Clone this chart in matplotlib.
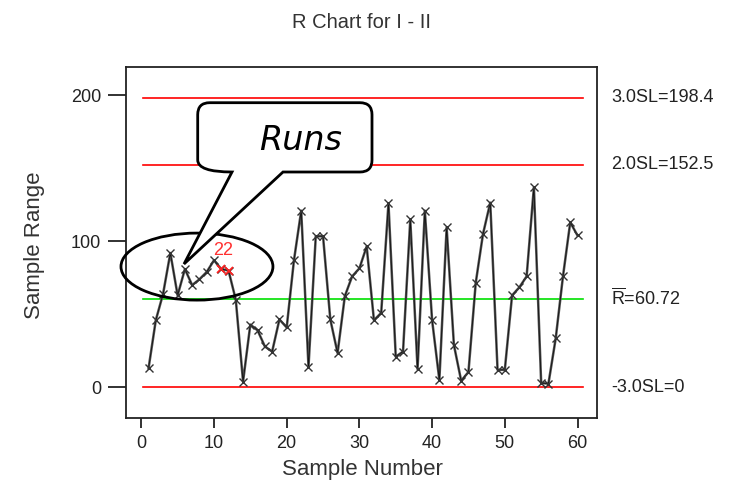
import matplotlib
matplotlib.use("Agg")
import matplotlib.pyplot as plt
import matplotlib.transforms as mtransforms
from matplotlib.patches import Ellipse, PathPatch
from matplotlib.path import Path

# ---------------- data ----------------
sample_range = [13, 46, 64, 92, 63, 81, 70, 74, 79, 87,
                81, 80, 60, 4, 43, 39, 28, 24.5, 46.5, 41,
                87, 121, 14, 103.5, 103.5, 46.5, 23.5, 62.5, 76, 81.5,
                96.5, 46, 51, 126, 21, 24.5, 115, 12.5, 121, 46,
                5, 109.5, 29, 4.5, 10.5, 71.5, 105, 126.5, 12, 12,
                63, 68.5, 76, 137, 3, 2.5, 33.5, 76, 113, 104]
samples = list(range(1, len(sample_range) + 1))
flagged = [11, 12]          # samples failing test 2
flag_label = "22"

ucl3, ucl2, rbar, lcl = 198.4, 152.5, 60.72, 0.0
limit_labels = ["3.0SL=198.4", "2.0SL=152.5", r"$\overline{\mathrm{R}}$=60.72", "-3.0SL=0"]
limit_values = [ucl3, ucl2, rbar, lcl]
xticks = [0, 10, 20, 30, 40, 50, 60]
yticks = [0, 100, 200]

plt.rcParams['font.family'] = ['Liberation Sans', 'DejaVu Sans']
plt.rcParams['mathtext.fontset'] = 'custom'
plt.rcParams['mathtext.rm'] = 'Liberation Sans'

W, H = 733, 488
fig = plt.figure(figsize=(W / 100, H / 100), dpi=100)
ax = fig.add_axes([126 / W, 1 - 418.3 / H, (597 - 126) / W, (418.3 - 67.3) / H])
ax.set_xlim(-2.1, 62.68)
ax.set_ylim(-21.2, 219.2)

txtc = '#222222'
# control limit lines
for v in (ucl3, ucl2, lcl):
    ax.plot([0.2, 60.75], [v, v], color='#ff0000', lw=1.2, zorder=2)
ax.plot([0.2, 60.75], [rbar, rbar], color='#00e000', lw=1.2, zorder=2)

# data line
ax.plot(samples, sample_range, color='#555555', lw=1.8, zorder=3)
ax.plot(samples, sample_range, color='#111111', lw=0.6, zorder=3)
ax.plot(samples, sample_range, ls='none', marker='x', ms=6, mew=1.0,
        color='#333333', zorder=4)
fx = [s for s in flagged]
fy = [sample_range[s - 1] for s in flagged]
ax.plot(fx, fy, ls='none', marker='x', ms=6, mew=1.3, color='#ff2020', zorder=5)
ax.text(sum(fx) / len(fx) - 0.3, max(fy) + 13, flag_label, color='#ff3030',
        fontsize=13, ha='center', va='center', zorder=6)

# right side labels
for lab, v in zip(limit_labels, limit_values):
    ax.annotate(lab, xy=(1, v), xycoords=ax.get_yaxis_transform(),
                xytext=(10, 0), textcoords='offset points',
                ha='left', va='center', fontsize=13, color=txtc)

ax.set_xticks(xticks)
ax.set_yticks(yticks)
ax.tick_params(axis='x', length=7, width=1.3, pad=5, labelsize=13, colors=txtc)
ax.tick_params(axis='y', length=13, width=1.3, pad=5, labelsize=13, colors=txtc)
for sp in ax.spines.values():
    sp.set_linewidth(1.3)
    sp.set_color('#222222')

# ellipse around the run
ell = Ellipse((7.66, 82.7), 20.9, 45.9, fill=False, lw=2.0, ec='black',
              clip_on=False, zorder=7)
ax.add_patch(ell)

# speech bubble (pixel coords, top-left origin)
pix = mtransforms.Affine2D().scale(1, -1).translate(0, H)
L, R, T, B, r = 197.7, 372.0, 102.7, 172.0, 12.0
verts = [(L + r, T), (R - r, T), (R, T), (R, T + r), (R, B - r), (R, B), (R - r, B),
         (283, B), (184, 264), (232, B), (L, B), (L, B - r), (L, T + r), (L, T), (L + r, T),
         (L + r, T)]
codes = [Path.MOVETO, Path.LINETO, Path.CURVE3, Path.CURVE3, Path.LINETO, Path.CURVE3, Path.CURVE3,
         Path.LINETO, Path.LINETO, Path.LINETO, Path.CURVE3, Path.CURVE3, Path.LINETO, Path.CURVE3,
         Path.CURVE3, Path.CLOSEPOLY]
bubble = PathPatch(Path(verts, codes), transform=pix, fc='white', ec='black', lw=2.0,
                   clip_on=False, zorder=8)
fig.patches.append(bubble)
fig.text(301, 140, 'Runs', transform=pix, ha='center', va='center', fontsize=24,
         style='italic', family=['DejaVu Sans'], color='black', zorder=9)

fig.text(362 / W, 1 - 22 / H, 'R Chart for I - II', ha='center', va='center',
         fontsize=14.5, color='#333333')
fig.text(362 / W, 1 - 470 / H, 'Sample Number', ha='center', va='center',
         fontsize=16, color='#333333')
fig.text(35 / W, 1 - 245 / H, 'Sample Range', ha='center', va='center',
         rotation=90, fontsize=16, color='#333333')

fig.savefig('out.png', dpi=100)
